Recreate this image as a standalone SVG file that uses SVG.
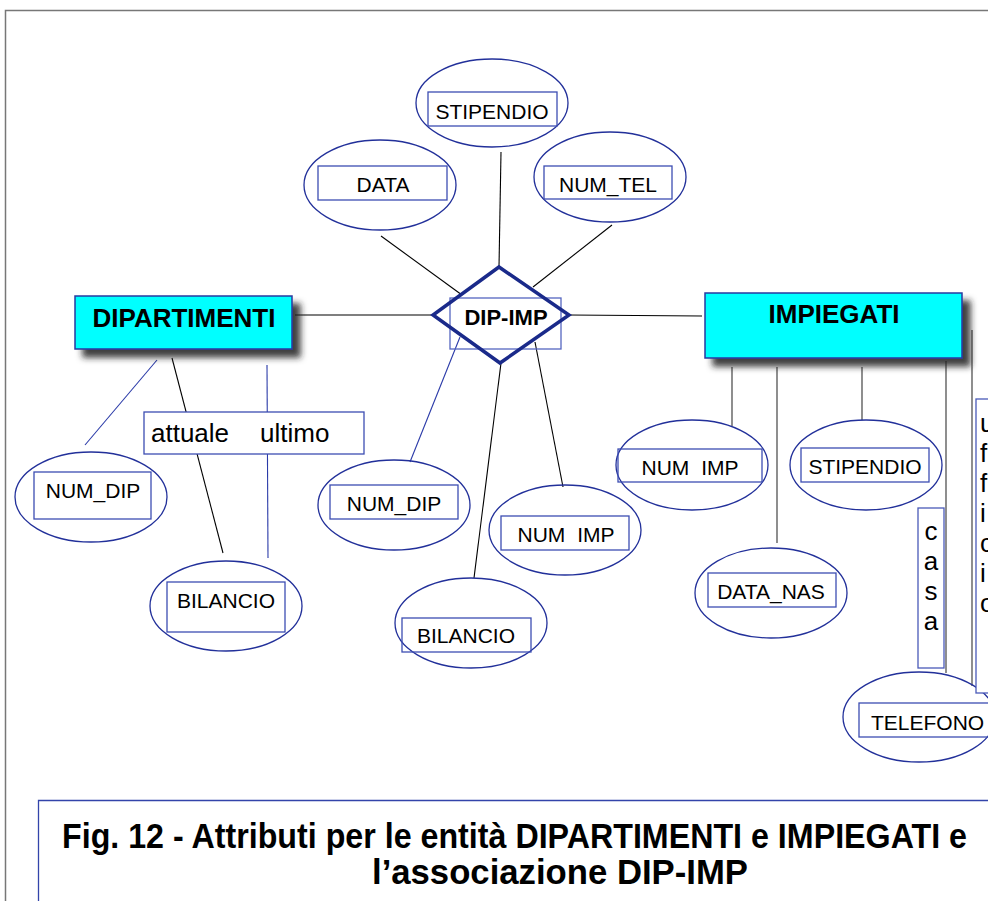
<svg xmlns="http://www.w3.org/2000/svg" width="988" height="901" viewBox="0 0 988 901">
  <style>
    .frame { fill: none; stroke: #777; stroke-width: 1.5; }
    .attr ellipse { fill: none; stroke: #22309a; stroke-width: 1.3; }
    .attr rect { fill: none; stroke: #3c4db2; stroke-width: 1.3; }
    .lbl { font-family: "Liberation Sans", Arial, sans-serif; font-size: 21px; fill: #000; }
    .ent rect { fill: #00ffff; stroke: #2a3aa0; stroke-width: 1.5; }
    .ent text { font-family: "Liberation Sans", Arial, sans-serif; font-weight: bold; font-size: 26px; fill: #000; }
    .ln { stroke: #000; stroke-width: 1.1; fill: none; }
    .bl { stroke: #2a3aa8; stroke-width: 1.1; fill: none; }
    .gr { stroke: #444; stroke-width: 1.2; fill: none; }
    .note { font-family: "Liberation Sans", Arial, sans-serif; font-size: 26px; fill: #000; }
    .cap { font-family: "Liberation Sans", Arial, sans-serif; font-weight: bold; font-size: 35px; fill: #000; }
  </style>
  <defs>
    <filter id="shadow" x="-10%" y="-20%" width="130%" height="160%">
      <feGaussianBlur in="SourceAlpha" stdDeviation="3"/>
      <feOffset dx="8" dy="8" result="off"/>
      <feFlood flood-color="#222" flood-opacity="0.85"/>
      <feComposite in2="off" operator="in" result="sh"/>
      <feMerge>
        <feMergeNode in="sh"/>
        <feMergeNode in="SourceGraphic"/>
      </feMerge>
    </filter>
  </defs>

  <rect width="988" height="901" fill="#fff"/>
  <!-- page frame -->
  <path class="frame" d="M5.5,901 V10.5 H988"/>

  <!-- connectors -->
  <g id="connectors">
    <line class="ln" x1="295" y1="315" x2="433" y2="315"/>
    <line class="ln" x1="569" y1="315" x2="702" y2="316"/>
    <line class="ln" x1="381" y1="236" x2="462" y2="295"/>
    <line class="ln" x1="501" y1="152" x2="499" y2="267"/>
    <line class="ln" x1="612" y1="225" x2="533" y2="287"/>
    <line class="bl" x1="460" y1="337" x2="410" y2="462"/>
    <line class="ln" x1="501" y1="363" x2="474" y2="578"/>
    <line class="ln" x1="535" y1="342" x2="563" y2="487"/>
    <line class="bl" x1="157" y1="360" x2="85" y2="445"/>
    <line class="ln" x1="172" y1="358" x2="223" y2="553"/>
    <line class="bl" x1="267" y1="365" x2="268" y2="558"/>
    <line class="gr" x1="732" y1="367" x2="732" y2="426"/>
    <line class="gr" x1="777" y1="367" x2="777" y2="543"/>
    <line class="gr" x1="862" y1="367" x2="862" y2="420"/>
    <line class="gr" x1="946" y1="361" x2="946" y2="673"/>
    <line class="gr" x1="972" y1="330" x2="972" y2="686"/>
  </g>

  <!-- entities -->
  <g id="dipartimenti" class="ent">
    <rect x="75" y="296" width="217" height="53" filter="url(#shadow)"/>
    <text x="184" y="327" text-anchor="middle">DIPARTIMENTI</text>
  </g>
  <g id="impiegati" class="ent">
    <rect x="705" y="293" width="257" height="65" filter="url(#shadow)"/>
    <text x="834" y="323" text-anchor="middle">IMPIEGATI</text>
  </g>

  <!-- relationship -->
  <g id="dip-imp">
    <rect x="450" y="298" width="111" height="51" fill="none" stroke="#5566c0" stroke-width="1.3"/>
    <polygon points="499,267 569,315 500,363 433,315" fill="none" stroke="#1a2a8a" stroke-width="3.5" stroke-linejoin="miter"/>
    <text x="506" y="325" text-anchor="middle" font-family="Liberation Sans, Arial, sans-serif" font-weight="bold" font-size="22">DIP-IMP</text>
  </g>

  <!-- relationship attributes -->
  <g id="rel-stipendio" class="attr">
    <ellipse cx="492" cy="103" rx="76" ry="44"/>
    <rect x="428" y="92" width="129" height="34"/>
    <text class="lbl" x="492" y="119" text-anchor="middle">STIPENDIO</text>
  </g>
  <g id="rel-data" class="attr">
    <ellipse cx="380" cy="185" rx="76" ry="45"/>
    <rect x="318" y="166" width="129" height="34"/>
    <text class="lbl" x="383" y="192" text-anchor="middle">DATA</text>
  </g>
  <g id="rel-num-tel" class="attr">
    <ellipse cx="610" cy="177" rx="76" ry="45"/>
    <rect x="544" y="166" width="128" height="33"/>
    <text class="lbl" x="608" y="192" text-anchor="middle">NUM_TEL</text>
  </g>
  <g id="rel-num-dip" class="attr">
    <ellipse cx="394" cy="505" rx="76" ry="45"/>
    <rect x="330" y="485" width="128" height="34"/>
    <text class="lbl" x="394" y="511" text-anchor="middle">NUM_DIP</text>
  </g>
  <g id="rel-num-imp" class="attr">
    <ellipse cx="565" cy="530" rx="76" ry="45"/>
    <rect x="501" y="516" width="128" height="34"/>
    <text class="lbl" x="566" y="542" text-anchor="middle" word-spacing="6">NUM IMP</text>
  </g>
  <g id="rel-bilancio" class="attr">
    <ellipse cx="471" cy="623" rx="76" ry="45"/>
    <rect x="402" y="618" width="129" height="34"/>
    <text class="lbl" x="466" y="643" text-anchor="middle">BILANCIO</text>
  </g>

  <!-- DIPARTIMENTI attributes -->
  <g id="dip-num-dip" class="attr">
    <ellipse cx="91" cy="497" rx="76" ry="45"/>
    <rect x="34" y="472" width="117" height="47"/>
    <text class="lbl" x="93" y="498" text-anchor="middle">NUM_DIP</text>
  </g>
  <g id="dip-bilancio" class="attr">
    <ellipse cx="226" cy="606" rx="76" ry="45"/>
    <rect x="167" y="582" width="118" height="50"/>
    <text class="lbl" x="226" y="608" text-anchor="middle">BILANCIO</text>
  </g>
  <g id="dip-periodo">
    <rect x="144" y="412" width="220" height="42" fill="#fff" stroke="#3c4db2" stroke-width="1.3"/>
    <text class="note" x="151" y="442">attuale</text>
    <text class="note" x="260" y="442">ultimo</text>
  </g>

  <!-- IMPIEGATI attributes -->
  <g id="imp-num-imp" class="attr">
    <ellipse cx="692" cy="465" rx="76" ry="45"/>
    <rect x="618" y="449" width="144" height="33"/>
    <text class="lbl" x="690" y="475" text-anchor="middle" word-spacing="6">NUM IMP</text>
  </g>
  <g id="imp-stipendio" class="attr">
    <ellipse cx="866" cy="465" rx="76" ry="45"/>
    <rect x="801" y="448" width="128" height="34"/>
    <text class="lbl" x="865" y="474" text-anchor="middle">STIPENDIO</text>
  </g>
  <g id="imp-data-nas" class="attr">
    <ellipse cx="771" cy="593" rx="76" ry="45"/>
    <rect x="708" y="573" width="128" height="34"/>
    <text class="lbl" x="771" y="599" text-anchor="middle">DATA_NAS</text>
  </g>
  <g id="imp-telefono" class="attr">
    <ellipse cx="919" cy="717" rx="76" ry="45"/>
    <rect x="859" y="703" width="132" height="34"/>
    <text class="lbl" x="871" y="730">TELEFONO</text>
  </g>
  <g id="tel-casa">
    <rect x="918" y="508" width="26" height="160" fill="#fff" stroke="#4a5ab8" stroke-width="1.3"/>
    <text class="note" x="931" y="540" text-anchor="middle">c</text>
    <text class="note" x="931" y="570" text-anchor="middle">a</text>
    <text class="note" x="931" y="600" text-anchor="middle">s</text>
    <text class="note" x="931" y="630" text-anchor="middle">a</text>
  </g>
  <g id="tel-ufficio">
    <rect x="976" y="399" width="30" height="294" fill="#fff" stroke="#4a5ab8" stroke-width="1.3"/>
    <text class="note" x="980" y="432">u</text>
    <text class="note" x="980" y="462">f</text>
    <text class="note" x="980" y="492">f</text>
    <text class="note" x="980" y="522">i</text>
    <text class="note" x="980" y="552">c</text>
    <text class="note" x="980" y="582">i</text>
    <text class="note" x="980" y="612">o</text>
  </g>

  <!-- caption -->
  <g id="caption">
    <path d="M38.5,901 V800.5 H988" fill="none" stroke="#3344aa" stroke-width="1.3"/>
    <text class="cap" x="62" y="848" textLength="905" lengthAdjust="spacingAndGlyphs">Fig. 12 - Attributi per le entità DIPARTIMENTI e IMPIEGATI e</text>
    <text class="cap" x="372" y="884" textLength="376" lengthAdjust="spacingAndGlyphs">l’associazione DIP-IMP</text>
  </g>
</svg>
